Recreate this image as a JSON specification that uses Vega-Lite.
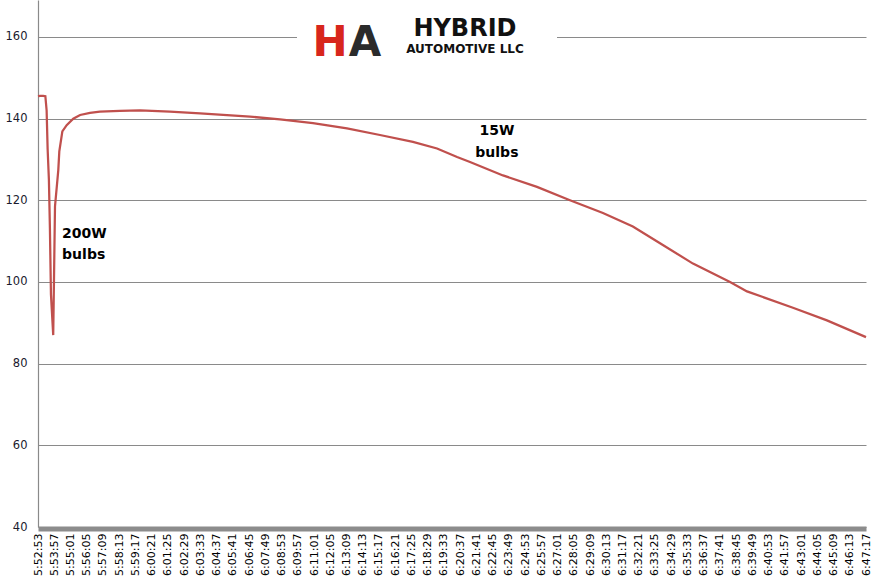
{
  "$schema": "https://vega.github.io/schema/vega-lite/v6.json",
  "autosize": "none",
  "width": 828,
  "height": 527,
  "padding": {"left": 38, "top": 0, "right": 9, "bottom": 55},
  "background": "white",
  "config": {"view": {"stroke": null}, "font": "DejaVu Sans"},
  "datasets": {
    "series": [
      {"time": "2020-01-01T05:52:53Z", "value": 145.5},
      {"time": "2020-01-01T05:53:02Z", "value": 145.6},
      {"time": "2020-01-01T05:53:13Z", "value": 145.6},
      {"time": "2020-01-01T05:53:22Z", "value": 145.5},
      {"time": "2020-01-01T05:53:27Z", "value": 142.0},
      {"time": "2020-01-01T05:53:31Z", "value": 132.5},
      {"time": "2020-01-01T05:53:36Z", "value": 125.0},
      {"time": "2020-01-01T05:53:40Z", "value": 113.0},
      {"time": "2020-01-01T05:53:44Z", "value": 97.0},
      {"time": "2020-01-01T05:53:53Z", "value": 87.0},
      {"time": "2020-01-01T05:54:00Z", "value": 118.5},
      {"time": "2020-01-01T05:54:13Z", "value": 127.4},
      {"time": "2020-01-01T05:54:17Z", "value": 132.0},
      {"time": "2020-01-01T05:54:29Z", "value": 136.9},
      {"time": "2020-01-01T05:54:46Z", "value": 138.4},
      {"time": "2020-01-01T05:55:12Z", "value": 140.0},
      {"time": "2020-01-01T05:55:39Z", "value": 140.9},
      {"time": "2020-01-01T05:56:18Z", "value": 141.4},
      {"time": "2020-01-01T05:56:57Z", "value": 141.7},
      {"time": "2020-01-01T05:58:16Z", "value": 141.9},
      {"time": "2020-01-01T05:59:35Z", "value": 142.0},
      {"time": "2020-01-01T06:01:33Z", "value": 141.7},
      {"time": "2020-01-01T06:03:32Z", "value": 141.3},
      {"time": "2020-01-01T06:06:49Z", "value": 140.5},
      {"time": "2020-01-01T06:08:47Z", "value": 139.8},
      {"time": "2020-01-01T06:10:57Z", "value": 138.9},
      {"time": "2020-01-01T06:13:11Z", "value": 137.6},
      {"time": "2020-01-01T06:15:21Z", "value": 136.0},
      {"time": "2020-01-01T06:17:31Z", "value": 134.3},
      {"time": "2020-01-01T06:19:06Z", "value": 132.7},
      {"time": "2020-01-01T06:20:25Z", "value": 130.6},
      {"time": "2020-01-01T06:21:16Z", "value": 129.4},
      {"time": "2020-01-01T06:23:26Z", "value": 126.1},
      {"time": "2020-01-01T06:25:40Z", "value": 123.3},
      {"time": "2020-01-01T06:27:50Z", "value": 120.0},
      {"time": "2020-01-01T06:30:00Z", "value": 116.9},
      {"time": "2020-01-01T06:31:58Z", "value": 113.6},
      {"time": "2020-01-01T06:33:45Z", "value": 109.5},
      {"time": "2020-01-01T06:35:55Z", "value": 104.5},
      {"time": "2020-01-01T06:38:21Z", "value": 100.0},
      {"time": "2020-01-01T06:39:28Z", "value": 97.7},
      {"time": "2020-01-01T06:42:29Z", "value": 93.7},
      {"time": "2020-01-01T06:44:43Z", "value": 90.6},
      {"time": "2020-01-01T06:47:17Z", "value": 86.5}
    ],
    "notesLeft": [
      {"time": "2020-01-01T05:54:28Z", "value": 111.7, "label": "200W"},
      {"time": "2020-01-01T05:54:28Z", "value": 106.5, "label": "bulbs"}
    ],
    "notesCenter": [
      {"time": "2020-01-01T06:23:02Z", "value": 136.9, "label": "15W"},
      {"time": "2020-01-01T06:23:02Z", "value": 131.6, "label": "bulbs"}
    ],
    "logobox": [
      {"start": "2020-01-01T06:09:54Z", "end": "2020-01-01T06:26:59Z", "low": 152, "high": 169.06}
    ],
    "logo1": [
      {"time": "2020-01-01T06:20:56Z", "value": 160.25, "label": "HYBRID"}
    ],
    "logo2": [
      {"time": "2020-01-01T06:20:56Z", "value": 156.0, "label": "AUTOMOTIVE LLC"}
    ],
    "logoH": [
      {"time": "2020-01-01T06:12:04Z", "value": 155.3, "label": "H"}
    ],
    "logoA": [
      {"time": "2020-01-01T06:14:22Z", "value": 155.3, "label": "A"}
    ]
  },
  "encoding": {
    "x": {
      "field": "time",
      "type": "temporal",
      "title": null,
      "scale": {"type": "utc", "domain": [1577857973000, 1577861237000], "nice": false},
      "axis": {
        "values": [1577857973000, 1577858037000, 1577858101000, 1577858165000, 1577858229000, 1577858293000, 1577858357000, 1577858421000, 1577858485000, 1577858549000, 1577858613000, 1577858677000, 1577858741000, 1577858805000, 1577858869000, 1577858933000, 1577858997000, 1577859061000, 1577859125000, 1577859189000, 1577859253000, 1577859317000, 1577859381000, 1577859445000, 1577859509000, 1577859573000, 1577859637000, 1577859701000, 1577859765000, 1577859829000, 1577859893000, 1577859957000, 1577860021000, 1577860085000, 1577860149000, 1577860213000, 1577860277000, 1577860341000, 1577860405000, 1577860469000, 1577860533000, 1577860597000, 1577860661000, 1577860725000, 1577860789000, 1577860853000, 1577860917000, 1577860981000, 1577861045000, 1577861109000, 1577861173000, 1577861237000],
        "labelExpr": "utcFormat(datum.value, '%-H:%M:%S')",
        "labelAngle": -90,
        "labelFontSize": 11,
        "labelFont": "DejaVu Sans",
        "labelColor": "#000000",
        "labelPadding": 4.5,
        "labelOverlap": false,
        "labelBound": false,
        "labelFlush": false,
        "ticks": false,
        "grid": false,
        "domainColor": "#8c8c8c",
        "domainWidth": 5,
        "offset": 1.5
      }
    },
    "y": {
      "field": "value",
      "type": "quantitative",
      "title": null,
      "scale": {"domain": [40, 169.06], "nice": false, "zero": false},
      "axis": {
        "values": [40, 60, 80, 100, 120, 140, 160],
        "labelFontSize": 11.5,
        "labelFont": "DejaVu Sans",
        "labelColor": "#1a1a2e",
        "labelPadding": 11,
        "ticks": false,
        "grid": true,
        "gridColor": "#8a8a8a",
        "gridWidth": 1,
        "domainColor": "#8a8a8a",
        "domainWidth": 1.2
      }
    }
  },
  "layer": [
    {
      "data": {"name": "logobox"},
      "mark": {"type": "rect", "color": "white"},
      "encoding": {
        "x": {"field": "start", "type": "temporal"},
        "x2": {"field": "end"},
        "y": {"field": "low", "type": "quantitative"},
        "y2": {"field": "high"}
      }
    },
    {
      "data": {"name": "series"},
      "mark": {"type": "line", "color": "#c0504d", "strokeWidth": 2.25}
    },
    {
      "data": {"name": "notesLeft"},
      "mark": {"type": "text", "align": "left", "baseline": "middle", "fontSize": 14, "fontWeight": "bold", "font": "DejaVu Sans", "color": "#000000"},
      "encoding": {"text": {"field": "label"}}
    },
    {
      "data": {"name": "notesCenter"},
      "mark": {"type": "text", "align": "center", "baseline": "middle", "fontSize": 14, "fontWeight": "bold", "font": "DejaVu Sans", "color": "#000000"},
      "encoding": {"text": {"field": "label"}}
    },
    {
      "data": {"name": "logo1"},
      "mark": {"type": "text", "align": "center", "baseline": "alphabetic", "fontSize": 24, "fontWeight": "bold", "font": "DejaVu Sans", "color": "#111111"},
      "encoding": {"text": {"field": "label"}}
    },
    {
      "data": {"name": "logo2"},
      "mark": {"type": "text", "align": "center", "baseline": "alphabetic", "fontSize": 12, "fontWeight": "bold", "font": "DejaVu Sans", "color": "#111111"},
      "encoding": {"text": {"field": "label"}}
    },
    {
      "data": {"name": "logoH"},
      "mark": {"type": "text", "align": "center", "baseline": "alphabetic", "fontSize": 42, "fontWeight": "bold", "font": "DejaVu Sans", "color": "#d8261c"},
      "encoding": {"text": {"field": "label"}}
    },
    {
      "data": {"name": "logoA"},
      "mark": {"type": "text", "align": "center", "baseline": "alphabetic", "fontSize": 42, "fontWeight": "bold", "font": "DejaVu Sans", "color": "#2b2b2b"},
      "encoding": {"text": {"field": "label"}}
    }
  ]
}
